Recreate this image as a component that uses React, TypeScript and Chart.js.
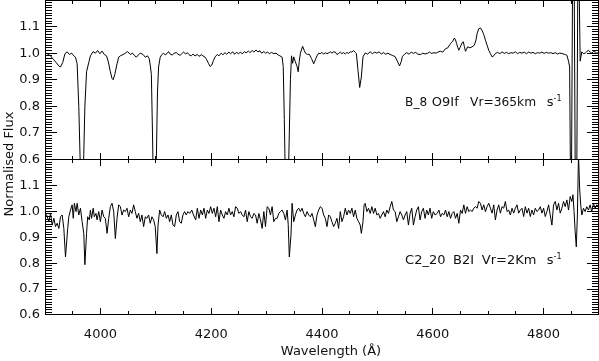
import React, { useEffect, useRef } from 'react';
import { Chart, registerables } from 'chart.js';

Chart.register(...registerables);

// ---------- data ----------
const topWavelength = [
  3900, 3905, 3910, 3915, 3920, 3925, 3928, 3932, 3936, 3940, 3944, 3948, 3952, 3955, 3958, 3961, 3964, 3966, 3968, 3970,
  3972, 3975, 3979, 3982, 3987, 3991, 3995, 3999, 4003, 4007, 4011, 4014, 4018, 4021, 4023, 4026, 4030, 4033, 4036, 4041,
  4045, 4049, 4054, 4058, 4062, 4065, 4069, 4072, 4077, 4081, 4085, 4088, 4090, 4092, 4094, 4096, 4099, 4101, 4103, 4105,
  4108, 4111, 4114, 4117, 4120, 4123, 4126, 4130, 4133, 4137, 4140, 4144, 4147, 4150, 4154, 4157, 4160, 4164, 4167, 4171,
  4175, 4178, 4182, 4185, 4189, 4192, 4195, 4198, 4201, 4204, 4207, 4211, 4214, 4218, 4221, 4225, 4228, 4232, 4235, 4239,
  4242, 4246, 4249, 4253, 4256, 4260, 4263, 4267, 4270, 4274, 4277, 4281, 4284, 4288, 4291, 4295, 4298, 4302, 4305, 4309,
  4313, 4317, 4321, 4324, 4328, 4330, 4332, 4334, 4337, 4339, 4341, 4343, 4345, 4347, 4349, 4352, 4355, 4357, 4359, 4361,
  4365, 4368, 4370, 4374, 4377, 4381, 4385, 4388, 4391, 4394, 4397, 4400, 4403, 4406, 4409, 4412, 4415, 4418, 4421, 4424,
  4427, 4430, 4433, 4436, 4439, 4442, 4445, 4448, 4451, 4454, 4457, 4460, 4462, 4465, 4468, 4471, 4474, 4478, 4482, 4487,
  4491, 4495, 4499, 4503, 4507, 4511, 4515, 4519, 4523, 4527, 4532, 4536, 4540, 4543, 4545, 4549, 4553, 4557, 4561, 4565,
  4569, 4573, 4578, 4582, 4586, 4590, 4594, 4598, 4602, 4606, 4610, 4614, 4618, 4623, 4627, 4632, 4636, 4639, 4641, 4643,
  4645, 4647, 4649, 4651, 4653, 4655, 4657, 4659, 4661, 4663, 4667, 4671, 4675, 4678, 4680, 4683, 4686, 4689, 4692, 4695,
  4698, 4701, 4704, 4707, 4710, 4713, 4717, 4721, 4725, 4729, 4733, 4737, 4741, 4745, 4749, 4753, 4757, 4761, 4765, 4769,
  4773, 4777, 4781, 4785, 4789, 4793, 4797, 4801, 4805, 4809, 4813, 4817, 4821, 4825, 4829, 4833, 4837, 4840, 4842, 4845,
  4847, 4849, 4850, 4852.5, 4855, 4857.5, 4859.5, 4862, 4863.5, 4866, 4869, 4872, 4875, 4878, 4881, 4884, 4887, 4890, 4893, 4896,
  4900,
];
const topFlux = [
  1.003, 0.996, 0.99, 0.977, 0.965, 0.952, 0.948, 0.965, 0.998, 1.005, 0.995, 1.0, 0.99, 0.985, 0.96, 0.8, 0.55, 0.45, 0.48, 0.62,
  0.8, 0.93, 0.965, 0.99, 1.006, 1.0, 1.01, 0.998, 1.008, 0.995, 0.99, 0.97, 0.93, 0.905, 0.9, 0.92, 0.96, 0.985, 0.99, 0.995,
  1.0, 1.006, 0.995, 1.0, 0.99, 0.985, 0.995, 1.0, 0.995, 0.985, 0.99, 0.98, 0.955, 0.92, 0.7, 0.45, 0.45, 0.6, 0.85, 0.948,
  0.985, 0.995, 1.0, 0.993, 0.998, 1.006, 0.996, 0.993, 1.0, 1.002, 0.996, 0.992, 0.998, 1.004, 0.997, 1.002, 0.994, 0.99, 0.996, 0.99,
  0.995, 0.988, 0.994, 0.99, 0.985, 0.975, 0.962, 0.95, 0.955, 0.972, 0.986, 0.995, 0.99, 1.0, 0.994, 1.002, 0.996, 1.004, 0.998, 1.005,
  0.996, 1.003, 0.998, 1.004, 0.997, 1.006, 1.001, 1.008, 1.002, 1.01, 1.004, 1.012, 1.005, 1.009, 1.0, 1.006, 1.0, 1.004, 0.998, 1.003,
  0.998, 1.0, 0.993, 0.99, 0.985, 0.95, 0.75, 0.5, 0.45, 0.5, 0.7, 0.9, 0.99, 0.962, 0.986, 0.967, 0.95, 0.93, 0.97, 1.0,
  1.026, 1.01, 1.0, 0.995, 0.996, 0.98, 0.96, 0.975, 0.99, 1.0, 0.998, 1.003, 0.996, 1.002, 0.998, 1.001, 1.005, 1.0, 1.005, 1.004,
  0.995, 0.999, 1.004, 0.998, 1.002, 0.997, 1.003, 0.999, 1.005, 1.004, 1.01, 1.003, 0.999, 0.935, 0.871, 0.91, 0.986, 1.001, 0.996, 1.005,
  0.998, 1.004, 1.0, 1.005, 0.997, 1.002, 0.996, 1.0, 0.995, 0.992, 0.987, 0.97, 0.952, 0.968, 0.987, 0.996, 1.002, 0.996, 1.004, 0.999,
  1.003, 0.996, 0.995, 1.0, 0.997, 0.999, 1.004, 0.999, 1.002, 1.0, 1.005, 1.007, 1.004, 1.017, 1.02, 1.036, 1.045, 1.057, 1.05, 1.036,
  1.022, 1.011, 1.02, 1.03, 1.04, 1.043, 1.025, 1.007, 1.015, 1.024, 1.02, 1.024, 1.03, 1.05, 1.074, 1.092, 1.095, 1.085, 1.07, 1.049,
  1.03, 1.011, 0.998, 0.986, 0.99, 0.999, 1.003, 0.998, 1.005, 0.999, 1.003, 0.998, 1.002, 1.0, 1.005, 0.998, 1.003, 1.0, 1.004, 0.998,
  1.004, 1.0, 1.003, 0.998, 1.002, 1.0, 1.004, 0.999, 1.003, 1.0, 1.002, 0.998, 1.002, 0.997, 1.0, 0.999, 0.996, 0.994, 0.992, 0.97,
  0.948, 0.4, 0.4, 1.35, 1.35, 0.4, 0.4, 1.35, 1.35, 0.97, 1.005, 0.998, 1.0, 1.006, 1.011, 1.004, 1.0, 1.006, 1.005, 1.0,
  1.002,
];

const bottomWavelength = [
  3900, 3903, 3907, 3910, 3913, 3916, 3919, 3922, 3925, 3928, 3931, 3934, 3937, 3941, 3943, 3946, 3949, 3951, 3953, 3956,
  3958, 3961, 3964, 3967, 3970, 3972, 3975, 3977, 3980, 3982, 3984, 3987, 3989, 3992, 3994, 3997, 4000, 4003, 4006, 4009,
  4012, 4015, 4018, 4021, 4024, 4027, 4030, 4033, 4036, 4039, 4042, 4045, 4048, 4051, 4054, 4057, 4060, 4063, 4066, 4069,
  4072, 4075, 4078, 4081, 4084, 4087, 4090, 4093, 4096, 4099, 4102, 4104, 4107, 4110, 4113, 4116, 4119, 4122, 4125, 4128,
  4131, 4134, 4137, 4140, 4143, 4146, 4149, 4152, 4155, 4158, 4161, 4165, 4168, 4172, 4175, 4178, 4181, 4184, 4187, 4190,
  4193, 4196, 4199, 4202, 4205, 4208, 4211, 4214, 4217, 4220, 4223, 4226, 4229, 4232, 4235, 4238, 4241, 4244, 4247, 4250,
  4253, 4256, 4259, 4262, 4265, 4268, 4271, 4274, 4277, 4280, 4283, 4286, 4289, 4292, 4295, 4298, 4301, 4304, 4307, 4310,
  4313, 4316, 4319, 4322, 4325, 4328, 4331, 4334, 4337, 4339, 4341, 4344, 4346, 4349, 4352, 4355, 4358, 4361, 4364, 4367,
  4370, 4373, 4376, 4379, 4382, 4385, 4388, 4391, 4394, 4397, 4400, 4403, 4406, 4409, 4412, 4415, 4418, 4421, 4424, 4427,
  4430, 4433, 4436, 4439, 4442, 4445, 4448, 4451, 4454, 4457, 4460, 4463, 4466, 4469, 4471, 4474, 4476, 4478, 4481, 4484,
  4487, 4490, 4493, 4496, 4499, 4502, 4505, 4508, 4511, 4514, 4517, 4520, 4523, 4526, 4529, 4532, 4535, 4538, 4541, 4544,
  4547, 4550, 4553, 4556, 4559, 4562, 4565, 4568, 4571, 4574, 4577, 4580, 4583, 4586, 4589, 4592, 4595, 4598, 4601, 4604,
  4608, 4611, 4614, 4617, 4620, 4623, 4626, 4629, 4632, 4635, 4638, 4641, 4644, 4647, 4650, 4653, 4656, 4659, 4662, 4665,
  4668, 4671, 4674, 4677, 4680, 4683, 4686, 4689, 4692, 4695, 4698, 4701, 4704, 4707, 4710, 4713, 4716, 4719, 4722, 4725,
  4728, 4731, 4734, 4737, 4740, 4743, 4746, 4749, 4752, 4755, 4758, 4761, 4764, 4767, 4770, 4773, 4776, 4779, 4782, 4785,
  4788, 4791, 4794, 4797, 4800, 4803, 4806, 4809, 4812, 4815, 4818, 4821, 4824, 4827, 4830, 4833, 4836, 4839, 4842, 4845,
  4848, 4851, 4853, 4855, 4857, 4859, 4861, 4863, 4865, 4867, 4869, 4872, 4875, 4878, 4881, 4884, 4887, 4890, 4893, 4896,
  4900,
];
const bottomFlux = [
  0.99, 0.986, 0.96, 0.992, 0.947, 0.973, 0.941, 0.954, 0.934, 0.979, 0.986, 0.934, 0.824, 0.934, 0.979, 1.005, 1.025, 0.973, 1.031, 0.999,
  1.031, 0.986, 1.012, 0.96, 0.915, 0.794, 0.915, 0.979, 0.967, 1.005, 0.973, 1.012, 0.979, 0.992, 0.967, 0.999, 0.96, 1.005, 0.979, 0.973,
  0.915, 0.973, 1.018, 1.031, 0.999, 0.895, 0.973, 1.025, 1.018, 0.986, 1.005, 0.999, 1.012, 0.979, 1.005, 0.992, 1.025, 0.999, 0.973, 0.992,
  0.96, 0.986, 0.941, 0.979, 0.973, 0.986, 0.954, 0.979, 0.967, 0.941, 0.837, 0.947, 1.005, 0.986, 0.979, 0.999, 0.973, 0.986, 0.96, 0.986,
  0.947, 0.941, 0.986, 0.999, 0.96, 0.954, 0.986, 0.999, 0.986, 0.999, 0.992, 1.005, 0.986, 0.967, 1.012, 0.973, 1.005, 0.986, 1.012, 0.973,
  1.005, 0.992, 1.018, 0.992, 1.012, 0.979, 1.018, 0.96, 1.005, 0.986, 0.973, 0.999, 0.986, 1.012, 0.986, 0.999, 0.979, 1.018, 1.012, 0.992,
  0.999, 0.986, 0.979, 1.005, 0.96, 0.999, 0.979, 0.973, 0.992, 0.986, 0.954, 0.992, 0.967, 0.934, 0.999, 0.941, 1.018, 1.012, 0.986, 1.018,
  0.96, 0.973, 0.973, 0.992, 0.999, 1.005, 0.992, 0.967, 1.005, 0.95, 0.824, 0.908, 1.031, 0.96, 0.986, 1.005, 1.012, 0.999, 1.012, 0.992,
  0.979, 0.999, 0.986, 0.979, 0.992, 0.967, 0.941, 0.986, 1.005, 1.018, 1.012, 0.986, 0.973, 0.941, 0.986, 0.979, 0.96, 0.941, 0.954, 0.973,
  0.934, 0.999, 0.96, 0.979, 1.012, 0.986, 1.005, 0.992, 1.012, 0.979, 1.005, 0.973, 0.96, 0.947, 0.915, 0.96, 1.025, 1.031, 0.999, 1.012,
  0.992, 1.018, 0.992, 1.012, 0.986, 0.992, 0.973, 0.986, 0.999, 0.979, 1.005, 0.992, 1.018, 1.038, 1.005, 0.999, 0.96, 0.979, 0.999, 0.986,
  0.967, 0.986, 0.999, 0.947, 0.992, 1.012, 0.947, 0.979, 1.005, 1.018, 0.967, 0.999, 1.012, 0.973, 1.005, 0.986, 1.012, 0.973, 0.999, 0.986,
  0.992, 1.005, 0.979, 0.992, 0.986, 1.005, 0.979, 0.999, 0.973, 0.992, 0.999, 0.973, 0.992, 0.954, 1.005, 0.992, 1.025, 0.992, 1.018, 0.999,
  1.005, 0.999, 1.012, 1.018, 1.012, 1.038, 1.031, 1.005, 1.025, 0.999, 1.018, 1.031, 1.012, 0.993, 1.025, 0.967, 1.005, 1.025, 0.993, 1.018,
  1.012, 1.038, 0.999, 1.005, 0.986, 1.012, 0.993, 1.012, 1.025, 0.993, 1.005, 1.012, 0.98, 1.018, 0.993, 1.012, 0.98, 1.005, 0.986, 1.012,
  0.999, 1.005, 1.018, 0.993, 1.012, 0.98, 0.999, 1.025, 0.986, 0.947, 1.025, 1.038, 1.005, 1.031, 0.993, 1.012, 1.038, 1.018, 1.044, 1.005,
  1.057, 1.038, 1.064, 0.999, 0.921, 0.863, 0.986, 1.22, 1.09, 1.025, 0.986, 1.012, 0.999, 1.018, 1.005, 1.025, 0.999, 1.031, 1.012, 1.025,
  1.018,
];

const xTickValues = [4000, 4200, 4400, 4600, 4800];
const yTickValues = [0.6, 0.7, 0.8, 0.9, 1.0, 1.1];
const xRange = [3900, 4900];
const yRange = [0.6, 1.2];
const topLabelWords = ['B_8', 'O9If', 'Vr=365km', 's'];
const bottomLabelWords = ['C2_20', 'B2I', 'Vr=2Km', 's'];
const unitExponent = '-1';
const xTitle = 'Wavelength (Å)';
const yTitle = 'Normalised Flux';

const FONT = "'DejaVu Sans', sans-serif";
const INK = '#111';

const framePlugin = {
  id: 'idlFrames',
  afterDraw(chart: any) {
    const ctx = chart.ctx;
    const area = chart.chartArea;
    const xs = chart.scales.x;
    const panels = [chart.scales.yTop, chart.scales.yBot];
    const colOf = (x: number) => Math.min(Math.floor(x), Math.floor(area.right) - 1);
    const rowOf = (y: number) => Math.min(Math.floor(y), Math.floor(area.bottom) - 1);
    ctx.save();
    ctx.fillStyle = '#000';
    const L = colOf(area.left);
    const R = colOf(area.right);
    for (const s of panels) {
      const T = rowOf(s.top);
      const B = rowOf(s.bottom);
      // frame
      ctx.fillRect(L, T, R - L + 1, 1);
      ctx.fillRect(L, B, R - L + 1, 1);
      ctx.fillRect(L, T, 1, B - T + 1);
      ctx.fillRect(R, T, 1, B - T + 1);
      // x ticks, every 50, major every 200
      for (let v = xRange[0] + 50; v < xRange[1]; v += 50) {
        const c = colOf(xs.getPixelForValue(v));
        const len = v % 200 === 0 ? 6 : 3;
        ctx.fillRect(c, B - len, 1, len);
        ctx.fillRect(c, T + 1, 1, len);
      }
      // y ticks, every 0.01, major every 0.1
      for (let i = 61; i < 120; i++) {
        const r = rowOf(s.getPixelForValue(i / 100));
        const len = i % 10 === 0 ? 11 : 6;
        ctx.fillRect(L + 1, r, len, 1);
        ctx.fillRect(R - len, r, len, 1);
      }
    }

    // panel annotations
    ctx.fillStyle = INK;
    ctx.textBaseline = 'alphabetic';
    ctx.textAlign = 'left';
    const drawLabel = (words: string[], offsets: number[], widths: number[], s: any, yVal: number) => {
      const x0 = xs.getPixelForValue(4550);
      const y0 = s.getPixelForValue(yVal);
      ctx.font = `13px ${FONT}`;
      words.forEach((w, k) => ctx.fillText(w, x0 + offsets[k], y0, widths[k]));
      ctx.font = `8px ${FONT}`;
      ctx.fillText(unitExponent, x0 + 148.5, y0 - 5);
    };
    drawLabel(topLabelWords, [0, 26.7, 65, 141.7], [22, 29, 66, 8], chart.scales.yTop, 0.8);
    drawLabel(bottomLabelWords, [0, 48, 76.7, 141.7], [42, 21, 56, 8], chart.scales.yBot, 0.795);

    // axis titles
    ctx.font = `13px ${FONT}`;
    ctx.textAlign = 'center';
    ctx.fillText(xTitle, (area.left + area.right) / 2 + 9, 355);
    ctx.save();
    ctx.translate(13, 164);
    ctx.rotate(-Math.PI / 2);
    ctx.fillText(yTitle, 0, 0);
    ctx.restore();
    ctx.restore();
  },
};

export default function App() {
  const ref = useRef<HTMLCanvasElement | null>(null);
  useEffect(() => {
    if (!ref.current) return;
    const yAxis = (stackWeight: number, weight: number) => ({
      type: 'linear' as const,
      position: 'left' as const,
      stack: 'flux',
      stackWeight,
      weight,
      min: yRange[0],
      max: yRange[1],
      grid: { display: false, drawTicks: false },
      border: { display: false },
      afterFit: (s: any) => {
        s.width = 45;
        s.paddingTop = 0;
        s.paddingBottom = 0;
      },
      afterBuildTicks: (s: any) => { s.ticks = yTickValues.map((value) => ({ value })); },
      ticks: {
        padding: 5,
        autoSkip: false,
        color: INK,
        font: { family: FONT, size: 13 },
        callback: (v: any) => Number(v).toFixed(1),
      },
    });
    const chart = new Chart(ref.current, {
      type: 'line',
      data: {
        datasets: [
          {
            data: topWavelength.map((x, i) => ({ x, y: topFlux[i] })),
            yAxisID: 'yTop',
            borderColor: '#000',
            borderWidth: 1,
            pointRadius: 0,
            tension: 0,
            fill: false,
          },
          {
            data: bottomWavelength.map((x, i) => ({ x, y: bottomFlux[i] })),
            yAxisID: 'yBot',
            borderColor: '#000',
            borderWidth: 1,
            pointRadius: 0,
            tension: 0,
            fill: false,
          },
        ],
      },
      options: {
        animation: false,
        responsive: false,
        devicePixelRatio: 1,
        layout: { padding: 0 },
        plugins: { legend: { display: false }, tooltip: { enabled: false }, title: { display: false } },
        scales: {
          x: {
            type: 'linear',
            position: 'bottom',
            min: xRange[0],
            max: xRange[1],
            grid: { display: false, drawTicks: false },
            border: { display: false },
            afterFit: (s: any) => {
              s.height = 46;
              s.paddingLeft = 0;
              s.paddingRight = 0;
            },
            afterBuildTicks: (s: any) => { s.ticks = xTickValues.map((value) => ({ value })); },
            ticks: {
              padding: 12,
              maxRotation: 0,
              autoSkip: false,
              color: INK,
              font: { family: FONT, size: 13 },
              callback: (v: any) => String(v),
            },
          },
          yBot: yAxis(155.5, 0),
          yTop: yAxis(159.5, 1),
        },
      },
      plugins: [framePlugin],
    } as any);
    return () => chart.destroy();
  }, []);

  return (
    <div style={{ position: 'fixed', left: 0, top: 0, width: 599, height: 361, background: '#fff' }}>
      <canvas ref={ref} width={599} height={361} style={{ display: 'block', width: 599, height: 361 }} />
    </div>
  );
}
